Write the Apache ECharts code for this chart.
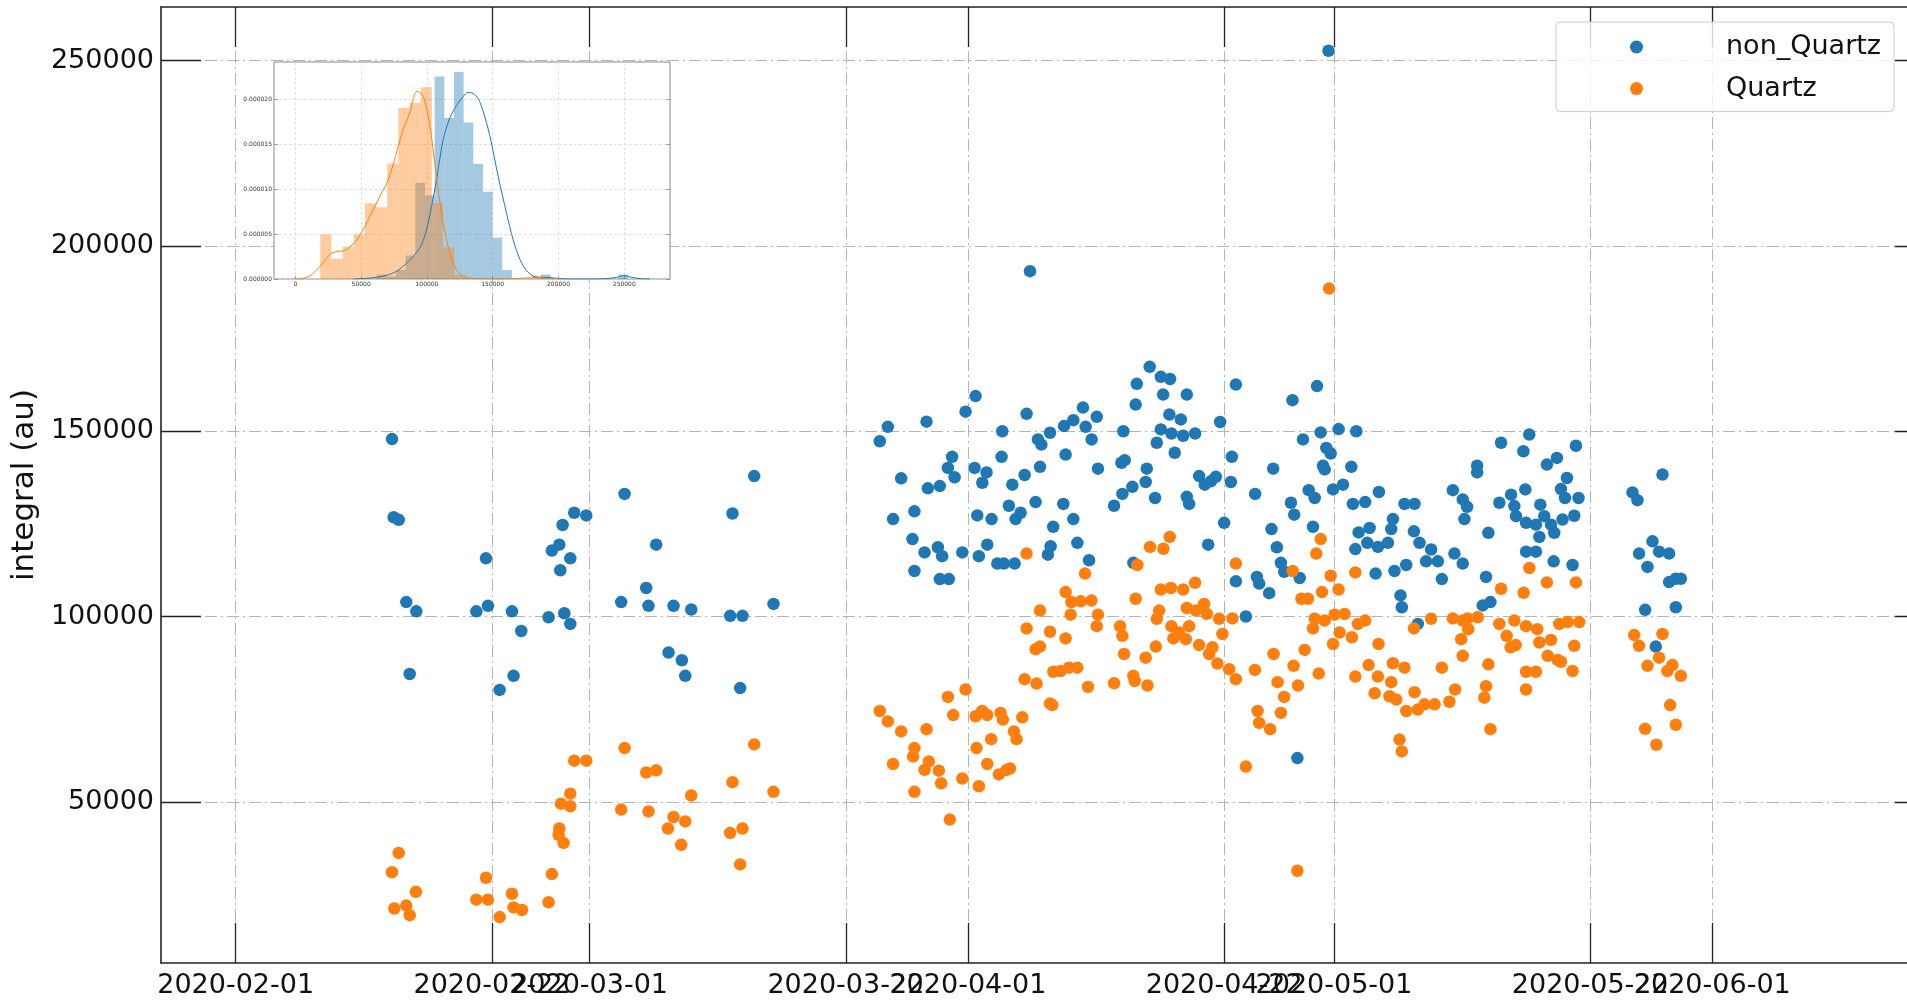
<!DOCTYPE html>
<html>
<head>
<meta charset="utf-8">
<title>integral (au)</title>
<script src="https://cdn.jsdelivr.net/npm/echarts@6/dist/echarts.min.js"></script>
<style>
  html, body { margin: 0; padding: 0; background: #fff; }
  #chart { width: 1907px; height: 1000px; }
</style>
</head>
<body>
<div id="chart"></div>
<script>
// x positions are days after startDate
const startDate = '2020-02-01';
const xTickLabels = ['2020-02-01', '2020-02-22', '2020-03-01', '2020-03-22', '2020-04-01',
  '2020-04-22', '2020-05-01', '2020-05-22', '2020-06-01'];
const yTickValues = [50000, 100000, 150000, 200000, 250000];

const nonQuartz = [
  [12.81,147900],[12.95,126800],[13.36,126100],[13.98,103900],[14.26,84500],[14.80,101400],
  [19.72,101400],[20.51,115700],[20.67,102900],[21.63,80200],[22.64,101400],[22.77,84000],[23.40,96100],
  [25.64,99800],[25.91,117800],[26.52,119400],[26.60,112500],[26.79,124700],[26.93,100900],[27.42,115700],
  [27.42,98000],[27.74,128000],[28.73,127300],[31.59,103900],[31.87,133100],[33.64,107700],[33.83,102900],
  [34.46,119400],[35.47,90300],[35.88,102900],[36.56,88200],[36.84,84000],[37.33,101900],
  [40.52,100200],[40.71,127800],[41.34,80700],[41.53,100200],[42.49,137900],[44.07,103400],
  [52.78,147300],[53.44,151200],[53.87,126300],[54.53,137300],[55.46,120900],[55.62,128400],[55.62,112300],
  [56.45,117300],[56.61,152600],[56.72,134600],[57.54,118700],[57.70,135200],[57.70,110100],[57.89,116300],
  [58.36,140100],[58.44,110100],[58.71,143100],[58.91,137600],[59.54,117300],[59.81,155300],
  [60.55,140100],[60.63,159500],[60.77,127300],[60.90,116300],[61.18,136100],[61.53,138900],[61.59,119400],
  [61.94,126300],[62.41,114300],[62.76,143100],[62.82,150000],[62.95,114300],[63.36,129900],[63.64,135600],
  [63.83,114300],[63.91,126300],[64.32,128000],[64.65,138200],[64.81,154700],[65.09,193200],
  [65.55,130900],[65.74,147800],[65.91,140400],[66.02,146400],[66.56,116700],[66.73,149600],[66.78,119000],
  [66.99,124200],[67.82,130400],[67.88,151400],[68.01,143700],[68.64,153000],[68.64,126300],[68.97,119900],
  [69.43,156400],[69.65,151200],[69.93,115200],[70.14,147800],[70.56,153900],[70.66,139900],
  [71.98,129900],[72.58,141500],[72.66,133100],[72.74,150000],[72.85,142200],[73.48,135000],[73.56,114500],
  [73.75,157200],[73.84,162800],[74.57,136300],[74.66,139900],[74.90,167400],[75.34,132000],[75.48,146900],
  [75.81,164700],[75.81,150500],[76.00,159900],[76.51,154500],[76.57,164100],[76.68,149400],[76.95,144200],
  [77.45,153200],[77.64,148800],[77.94,159900],[77.94,132300],[78.13,130400],[78.62,149400],[78.95,137900],
  [79.41,135600],[79.69,119400],[79.91,136500],[80.32,137700],[80.67,152500],[81.00,125300],[81.55,136300],
  [81.63,143100],[81.96,162600],[81.96,109500],[82.78,100000],[83.54,133100],[83.68,110700],[83.87,108900],
  [84.69,106300],[84.88,123600],[85.02,139900],[85.32,118700],[85.65,114500],[85.92,112100],[86.47,130700],
  [86.60,158400],[86.74,127500],
  [87.00,61800],[87.19,110400],[87.46,147800],[87.93,134100],[88.28,124200],[88.42,132000],[88.61,162200],
  [88.91,149700],[89.10,140700],[89.24,139700],[89.37,145500],[89.55,252700],[89.73,144000],[89.92,134300],
  [90.38,150600],[90.74,135600],[91.42,140400],[91.55,130400],[91.75,118200],[91.83,150000],[92.02,122700],
  [92.56,130900],[92.73,119900],[92.92,123900],[93.41,111600],[93.60,118800],[93.68,133600],[94.42,119900],
  [94.69,123600],[94.83,126300],[94.96,112300],[95.45,105700],[95.56,102500],[95.78,130400],[95.92,113900],
  [96.55,123000],[96.60,130400],[96.87,98000],[97.01,119900],[97.55,114900],[97.96,118100],[98.51,114900],
  [98.84,110100],[99.74,134100],[99.87,117000],[100.55,131600],[100.55,114300],[100.69,126300],[100.91,129600],
  [101.73,140700],[101.73,138900],[102.19,103000],[102.46,110700],[102.65,122600],[102.82,103900],
  [103.55,130700],[103.69,146900],[104.51,132900],[104.78,129800],[104.92,127100],[105.52,144600],
  [105.68,134300],[105.74,125300],[105.74,117500],[106.00,149100],[106.55,124800],[106.55,117500],
  [106.83,121500],[106.91,130200],[107.23,127100],[107.45,141000],[107.78,124800],[108.00,114900],
  [108.05,122600],[108.27,142800],[108.60,134400],[108.73,126200],[108.93,132000],[109.09,137400],
  [109.55,113900],[109.69,127200],[109.83,146100],[110.04,132000],
  [114.46,133500],[114.87,131400],[115.00,117000],[115.50,101800],[115.69,113400],[116.10,120300],
  [116.37,91900],[116.64,117500],[116.92,138300],[117.46,117000],[117.46,109300],[118.01,110200],
  [118.01,102500],[118.42,110200]
];

const quartz = [
  [12.81,31000],[13.00,21200],[13.36,36200],[13.98,22000],[14.26,19400],[14.77,25700],
  [19.72,23600],[20.51,29500],[20.67,23600],[21.63,18900],[22.64,25200],[22.77,21500],[23.46,20800],
  [25.64,22900],[25.91,30500],[26.46,41100],[26.52,42800],[26.65,49500],[26.87,38900],[27.42,48800],
  [27.42,52200],[27.74,61100],[28.73,61100],[31.59,47900],[31.87,64500],[33.64,57900],[33.83,47400],
  [34.46,58500],[35.42,42800],[35.88,45900],[36.51,38400],[36.84,44700],[37.33,51700],
  [40.52,41600],[40.71,55300],[41.34,33100],[41.53,42800],[42.49,65500],[44.07,52700],
  [52.78,74500],[53.44,71700],[53.87,60200],[54.53,69000],[55.51,62200],[55.62,64500],[55.62,52700],
  [56.45,58600],[56.61,69600],[56.80,60900],[57.62,58400],[57.81,55000],[58.36,78300],[58.52,45200],
  [58.80,73400],[59.54,56300],[59.81,80300],[60.63,73100],[60.71,64500],[60.90,54200],[61.18,74500],
  [61.59,73400],[61.59,60200],[61.91,66900],[62.54,57400],[62.68,74000],[62.87,72200],[63.17,58600],
  [63.45,59000],[63.77,69000],[63.99,66900],[64.46,72800],
  [64.65,83100],[64.81,96800],[64.81,117000],[65.55,91200],[65.63,81900],[65.91,101600],[65.91,91900],
  [66.73,76500],[66.73,95900],[66.92,76100],[67.00,85100],[67.60,85300],[68.01,94100],[68.01,106600],
  [68.29,86200],[68.42,100500],[68.48,103900],[68.97,86200],[69.24,104100],[69.60,111600],[69.84,81000],
  [70.12,104300],[70.56,97400],[70.66,100500],[71.98,82000],[72.47,97400],[72.66,94800],[72.80,89900],
  [73.56,84000],[73.67,82600],[73.75,104800],[73.89,113900],[74.57,88900],[74.71,81400],[74.93,118800],
  [75.40,91900],[75.48,99400],[75.67,101600],[75.81,107300],[76.02,118300],[76.54,121500],[76.63,107700],
  [76.68,97400],[76.84,94100],[77.31,95700],[77.64,107300],[77.86,93900],[77.94,102300],[78.13,97400],
  [78.62,109100],[78.68,101600],[78.95,92300],[79.36,103400],[79.58,100700],[79.77,89900],[80.04,91700],
  [80.45,87300],[80.59,99400],[80.86,95300],[81.41,85800],[81.68,99500],[81.96,83100],[81.96,114300],
  [82.78,59500],[83.52,85600],[83.74,74500],[83.87,71300],[84.77,69600],[85.05,89900],[85.38,82300],
  [85.65,74000],[85.92,78300],[86.61,112300],[86.69,86700],
  [87.00,31400],[87.05,81400],[87.33,104800],[87.60,91000],[87.87,104800],[88.28,96800],[88.42,99400],
  [88.55,117000],[88.75,84600],[88.91,120900],[89.02,106600],[89.24,98900],[89.60,188500],[89.73,111000],
  [89.92,92600],[90.05,100500],[90.38,107300],[90.46,95700],[90.87,100700],[91.47,94400],[91.75,111900],
  [91.75,83800],[91.96,98000],[92.56,98900],[92.84,86900],[93.33,79300],[93.60,83800],[93.65,92600],
  [94.55,78500],[94.69,82300],[94.83,87400],[95.10,77600],[95.37,66800],[95.56,63600],[95.78,86200],
  [95.92,74500],[96.55,96800],[96.60,79600],[96.87,74900],[97.42,76300],[97.96,99400],[98.24,76300],
  [98.84,86200],[99.46,77000],[99.74,99500],[99.93,80300],[100.42,93900],[100.55,98900],[100.55,89400],
  [100.96,99500],[101.00,96600],[101.78,99800],[102.32,78100],[102.46,81200],[102.65,87100],[102.82,69600],
  [103.55,98000],[103.69,107500],[104.15,94800],[104.48,91700],[104.78,98900],[104.89,92300],[105.54,106400],
  [105.74,97400],[105.74,85100],[105.74,80300],[106.01,113100],[106.55,85100],[106.66,96600],[106.83,93000],
  [107.45,109200],[107.51,89400],[107.78,93700],[108.33,88300],[108.46,98000],[108.60,87800],[109.15,98500],
  [109.55,85300],[109.69,92100],[109.83,109200],[110.10,98500],
  [114.60,95000],[115.00,92100],[115.50,69700],[115.69,86700],[116.42,65400],[116.64,88900],[116.92,95300],
  [117.32,85300],[117.55,76100],[117.73,86900],[118.01,70800],[118.42,84000]
];

// inset histogram, density in units of 1e-6
const nonQuartzHistStart = 61800;
const nonQuartzHistStep = 7344;
const nonQuartzHist = [0.5, 0.3, 1.0, 2.6, 10.7, 9.3, 22.5, 17.9, 23.0, 17.4, 12.8, 9.7, 4.6, 1.0,
  0, 0, 0, 0.5, 0, 0, 0, 0, 0, 0, 0, 0.5];
const quartzHistStart = 18900;
const quartzHistStep = 8480;
const quartzHist = [4.97, 2.26, 3.60, 4.97, 8.42, 7.98, 12.84, 19.04, 19.55, 21.30, 8.42, 3.5, 0.45,
  0, 0, 0, 0, 0, 0, 0.37];

const nonQuartzKdeX = [43860, 54010, 61610, 69220, 76830, 84430, 91020, 95840, 99650, 103450, 107250,
  112320, 117390, 122460, 127530, 131340, 135140, 138950, 142750, 147820, 154160, 160500, 165570,
  170640, 175710, 180780, 187120, 192190, 198530, 208670, 226420, 236560, 244170, 250000, 255580,
  261920, 269530];
const nonQuartzKdeY = [0, 0.07, 0.19, 0.41, 0.85, 1.74, 2.78, 3.79, 5.46, 8.05, 11.02, 15.47, 17.89,
  19.26, 20.30, 20.74, 20.63, 20.04, 18.63, 15.92, 11.39, 7.31, 4.34, 2.19, 0.93, 0.33, 0.15, 0.19,
  0.07, 0, 0, 0.04, 0.19, 0.37, 0.19, 0.04, 0];
const quartzKdeX = [0, 5830, 10900, 14700, 19270, 23580, 27380, 32450, 36260, 40060, 44370, 48930,
  52740, 56540, 61110, 65420, 69730, 74290, 78090, 81900, 86460, 89500, 92040, 94570, 97110, 99650,
  102180, 104720, 108520, 111810, 116120, 120440, 124990, 130070, 137680, 150360, 165570, 175710,
  183320, 190920, 201070];
const quartzKdeY = [0, 0.07, 0.33, 0.78, 1.48, 2.30, 2.86, 3.08, 3.12, 3.38, 3.97, 4.86, 5.83, 6.94,
  8.24, 9.54, 10.72, 12.69, 14.73, 16.59, 18.26, 19.93, 20.82, 20.74, 20.30, 19.0, 17.14, 14.36, 9.91,
  6.75, 3.60, 1.56, 0.56, 0.15, 0.04, 0, 0.04, 0.11, 0.15, 0.07, 0];
const insetXTicks = [0, 50000, 100000, 150000, 200000, 250000];
const insetYTicks = [0, 5, 10, 15, 20];

const font = 'DejaVu Sans';
const dayMs = 86400000;
const base = Date.parse(startDate);
const toTime = d => base + d * dayMs;
const xTickValues = xTickLabels.map(s => Date.parse(s));
// the last date label goes on its own axis so ECharts does not drop a neighbour
const xLabelValuesMain = xTickValues.slice(0, -1);
const xLabelValuesLast = xTickValues.slice(-1);
const xMin = toTime(-6.12);
const xMax = toTime(139.25);

const histData = (start, step, arr) => arr.map((h, i) => [start + i * step, start + (i + 1) * step, h]);
const zip = (xs, ys) => xs.map((x, i) => [x, ys[i]]);

const renderBar = fill => (params, api) => {
  const p0 = api.coord([api.value(0), api.value(2)]);
  const p1 = api.coord([api.value(1), 0]);
  return {
    type: 'rect',
    shape: { x: p0[0], y: p0[1], width: p1[0] - p0[0], height: p1[1] - p0[1] },
    style: { fill }
  };
};

const gridDash = { color: '#b4b4b4', width: 1, type: [12, 4, 2, 4] };
const spine = { color: '#222', width: 1.6 };
const bigTick = { color: '#222', width: 1.3 };
const insetTick = { color: '#888', width: 0.8 };
const dateLabel = {
  hideOverlap: false, showMinLabel: true, showMaxLabel: true,
  margin: 9, fontSize: 27, color: '#111', fontFamily: font,
  formatter: v => xTickLabels[xTickValues.indexOf(v)]
};

const myChart = echarts.init(document.getElementById('chart'));

myChart.setOption({
  animation: false,
  backgroundColor: '#fff',
  textStyle: { fontFamily: font },
  legend: {
    data: ['non_Quartz', 'Quartz'],
    orient: 'vertical',
    left: 1556,
    top: 22,
    padding: [10, 13, 8, 74],
    itemWidth: 13,
    itemHeight: 13,
    itemGap: 11.6,
    icon: 'circle',
    backgroundColor: 'rgba(255,255,255,0.8)',
    borderColor: '#cccccc',
    borderWidth: 1,
    borderRadius: 4,
    textStyle: { fontSize: 27, lineHeight: 30, color: '#111', fontFamily: font, padding: [0, 0, 0, 78] }
  },
  grid: [
    { left: 161, top: 7, right: -28, bottom: 37, outerBoundsMode: 'none' },
    {
      left: 274, top: 62, width: 396, height: 217, show: true, z: 3,
      backgroundColor: '#fff', borderColor: '#8a8a8a', borderWidth: 1, outerBoundsMode: 'none'
    }
  ],
  xAxis: [
    {
      type: 'value', gridIndex: 0, position: 'bottom', min: xMin, max: xMax,
      axisLine: { show: true, onZero: false, lineStyle: spine },
      axisTick: { show: true, inside: true, length: 40, customValues: xTickValues, lineStyle: bigTick },
      axisLabel: Object.assign({ customValues: xLabelValuesMain }, dateLabel),
      splitLine: { show: true, lineStyle: gridDash }
    },
    {
      type: 'value', gridIndex: 0, position: 'top', min: xMin, max: xMax,
      axisLine: { show: true, onZero: false, lineStyle: spine },
      axisTick: { show: true, inside: true, length: 40, customValues: xTickValues, lineStyle: bigTick },
      axisLabel: { show: false },
      splitLine: { show: false }
    },
    {
      type: 'value', gridIndex: 1, position: 'bottom', z: 3,
      min: -16255, max: 284750,
      axisLine: { show: false, onZero: false },
      axisTick: { show: true, inside: true, length: 3, customValues: insetXTicks, lineStyle: insetTick },
      axisLabel: {
        customValues: insetXTicks, showMinLabel: true, showMaxLabel: true, margin: 2,
        fontSize: 6, color: '#333', fontFamily: font, formatter: v => String(v)
      },
      splitLine: { show: true, lineStyle: { color: '#d4d4d4', width: 0.7, type: [3, 2] } }
    },
    {
      type: 'value', gridIndex: 0, position: 'bottom', min: xMin, max: xMax,
      axisLine: { show: false, onZero: false },
      axisTick: { show: false },
      axisLabel: Object.assign({ customValues: xLabelValuesLast }, dateLabel),
      splitLine: { show: false }
    }
  ],
  yAxis: [
    {
      type: 'value', gridIndex: 0, position: 'left',
      min: 6500, max: 264500,
      name: 'integral (au)', nameLocation: 'middle', nameGap: 115, nameRotate: 90,
      nameTextStyle: { fontSize: 31, color: '#111', fontFamily: font },
      axisLine: { show: true, onZero: false, lineStyle: spine },
      axisTick: { show: true, inside: true, length: 40, customValues: yTickValues, lineStyle: bigTick },
      axisLabel: {
        customValues: yTickValues, showMinLabel: true, showMaxLabel: true, margin: 7,
        fontSize: 27, color: '#111', fontFamily: font, formatter: v => String(v)
      },
      splitLine: { show: true, lineStyle: gridDash }
    },
    {
      type: 'value', gridIndex: 0, position: 'right',
      min: 6500, max: 264500,
      axisLine: { show: true, onZero: false, lineStyle: spine },
      axisTick: { show: true, inside: true, length: 40, customValues: yTickValues, lineStyle: bigTick },
      axisLabel: { show: false },
      splitLine: { show: false }
    },
    {
      type: 'value', gridIndex: 1, position: 'left', z: 3,
      min: 0, max: 24.12,
      axisLine: { show: false, onZero: false },
      axisTick: { show: true, inside: true, length: 4, customValues: insetYTicks, lineStyle: insetTick },
      axisLabel: {
        customValues: insetYTicks, showMinLabel: true, showMaxLabel: true, margin: 2,
        fontSize: 6, color: '#333', fontFamily: font, formatter: v => (v / 1e6).toFixed(6)
      },
      splitLine: { show: true, lineStyle: { color: '#d4d4d4', width: 0.7, type: [3, 2] } }
    },
    {
      type: 'value', gridIndex: 1, position: 'right', z: 3,
      min: 0, max: 24.12,
      axisLine: { show: false, onZero: false },
      axisTick: { show: true, inside: true, length: 4, customValues: insetYTicks, lineStyle: insetTick },
      axisLabel: { show: false },
      splitLine: { show: false }
    }
  ],
  series: [
    {
      name: 'non_Quartz', type: 'scatter', xAxisIndex: 0, yAxisIndex: 0,
      symbolSize: 12.5, itemStyle: { color: '#1f77b4', opacity: 1 },
      data: nonQuartz.map(([d, v]) => [toTime(d), v])
    },
    {
      name: 'Quartz', type: 'scatter', xAxisIndex: 0, yAxisIndex: 0,
      symbolSize: 12.5, itemStyle: { color: '#ff7f0e', opacity: 1 },
      data: quartz.map(([d, v]) => [toTime(d), v])
    },
    {
      name: 'non_Quartz hist', type: 'custom', xAxisIndex: 2, yAxisIndex: 2, z: 4,
      renderItem: renderBar('rgba(31,119,180,0.4)'),
      encode: { x: [0, 1], y: 2 },
      data: histData(nonQuartzHistStart, nonQuartzHistStep, nonQuartzHist)
    },
    {
      name: 'Quartz hist', type: 'custom', xAxisIndex: 2, yAxisIndex: 2, z: 4,
      renderItem: renderBar('rgba(255,127,14,0.4)'),
      encode: { x: [0, 1], y: 2 },
      data: histData(quartzHistStart, quartzHistStep, quartzHist)
    },
    {
      name: 'non_Quartz kde', type: 'line', xAxisIndex: 2, yAxisIndex: 2, z: 5,
      showSymbol: false, smooth: 0.3, lineStyle: { color: '#1f77b4', width: 1 },
      data: zip(nonQuartzKdeX, nonQuartzKdeY)
    },
    {
      name: 'Quartz kde', type: 'line', xAxisIndex: 2, yAxisIndex: 2, z: 5,
      showSymbol: false, smooth: 0.3, lineStyle: { color: '#ff7f0e', width: 1 },
      data: zip(quartzKdeX, quartzKdeY)
    }
  ]
});
</script>
</body>
</html>
